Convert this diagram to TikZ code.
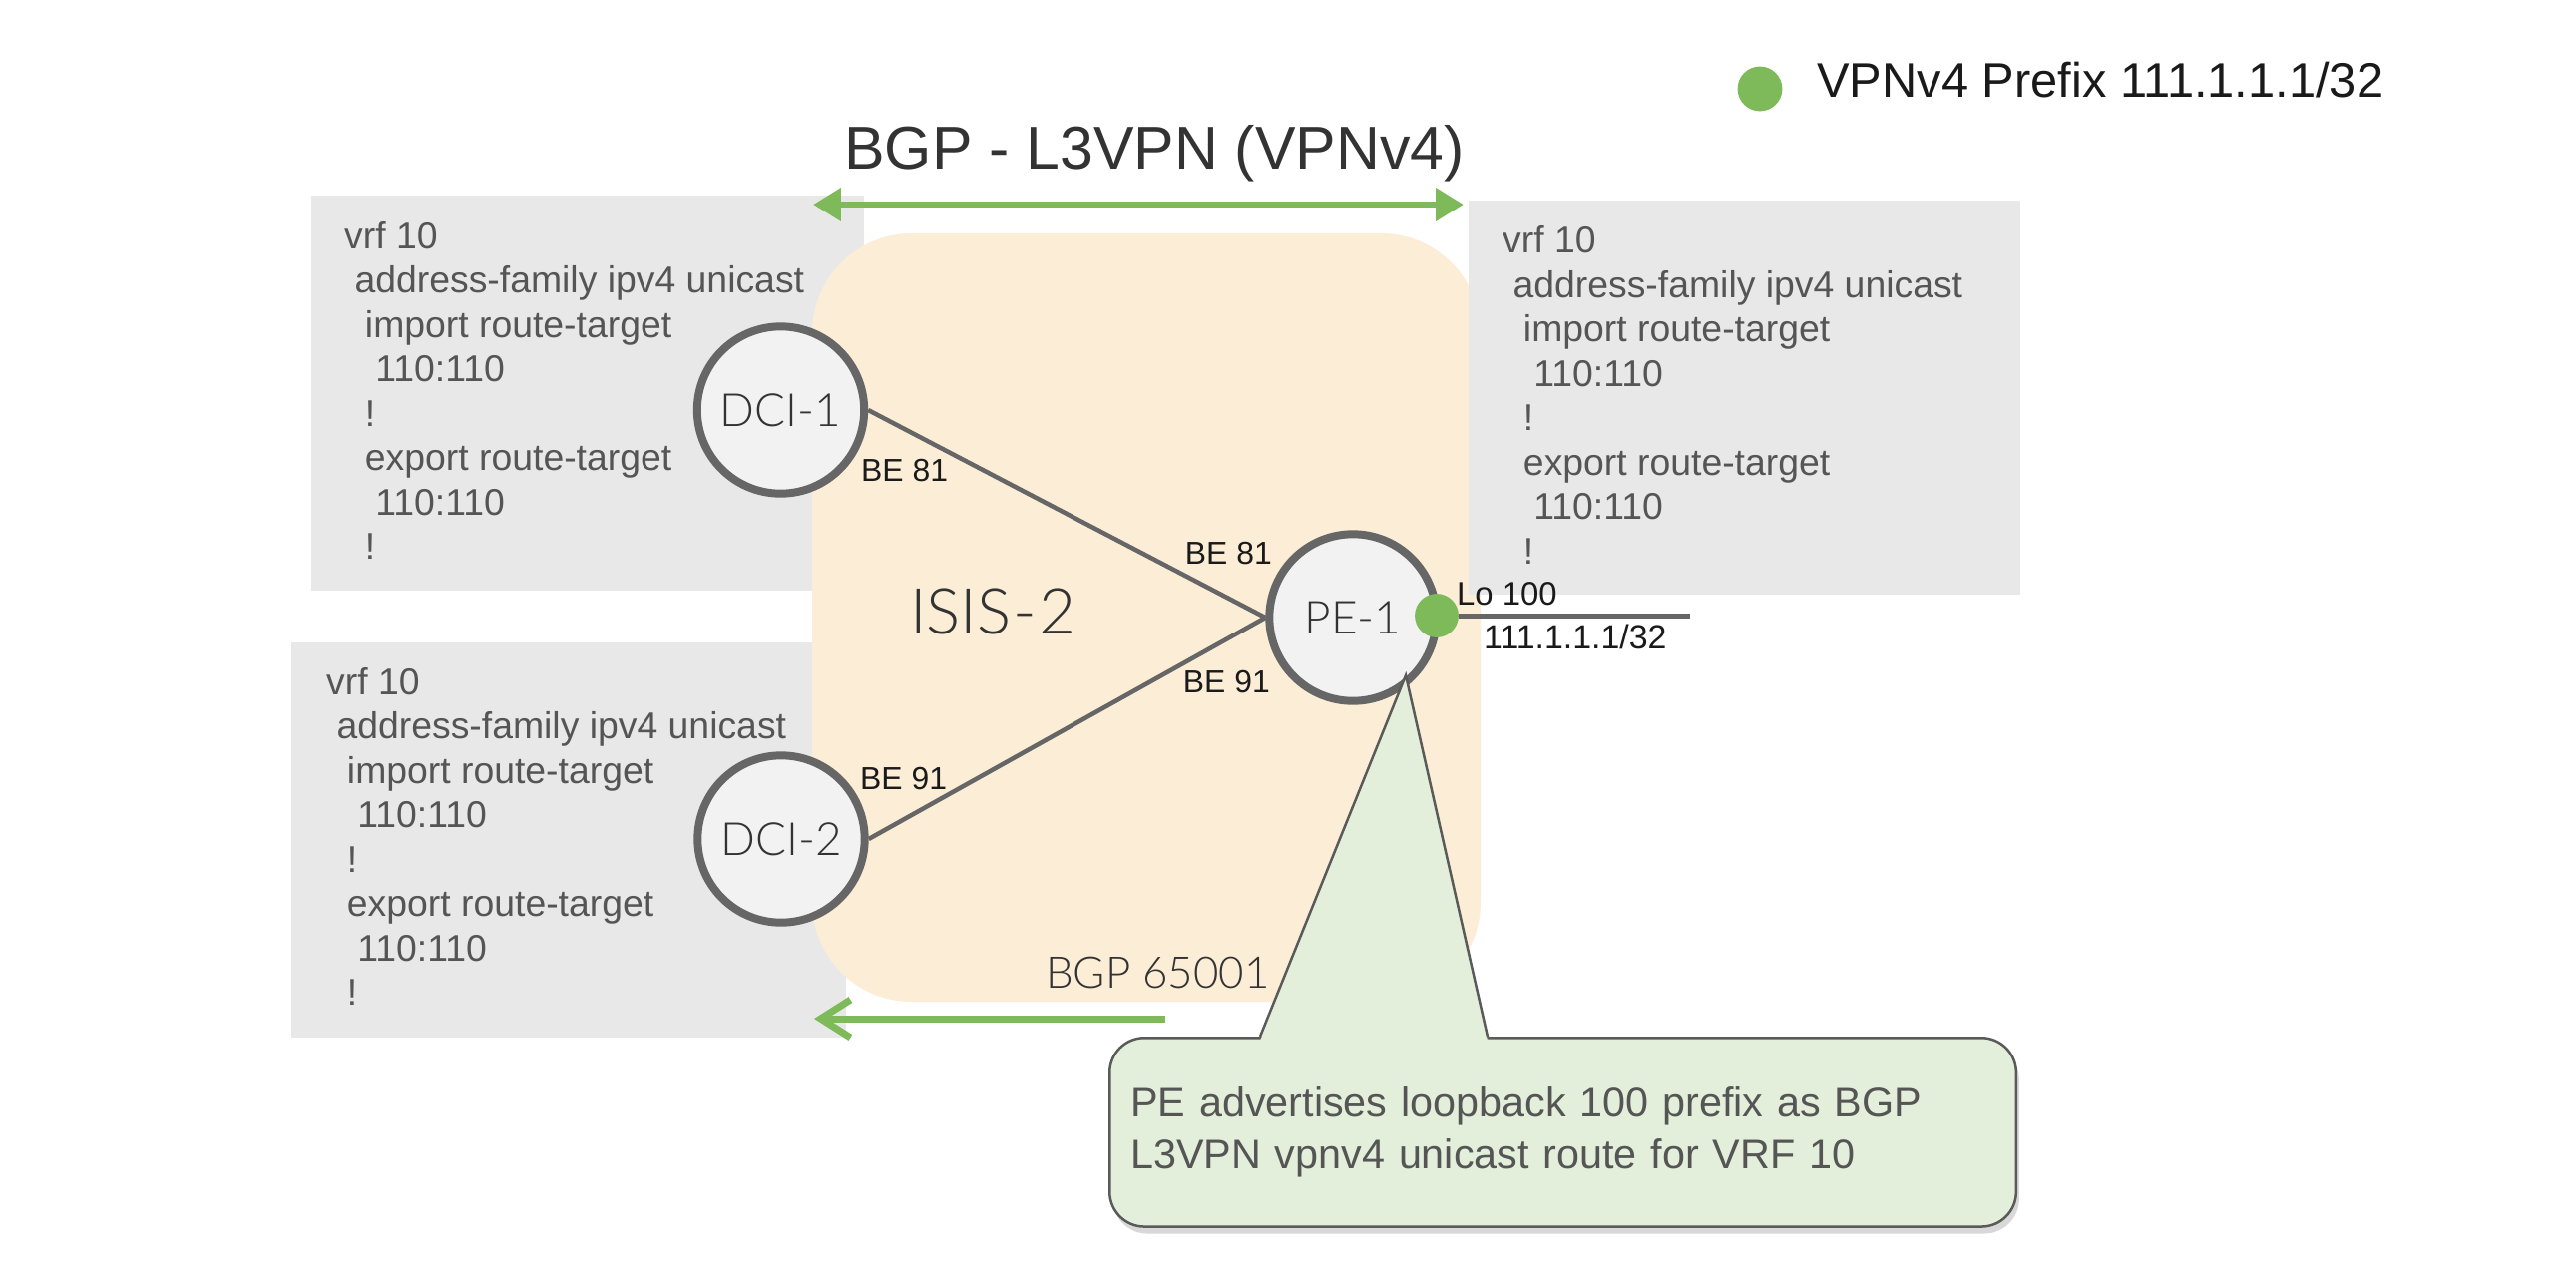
\documentclass[tikz,border=0pt]{standalone}
\usepackage{fontspec}
\setmainfont{Liberation Sans}
\newfontfamily\thinfont{Lato Light}
\usetikzlibrary{arrows.meta,shadows}
\definecolor{boxgray}{HTML}{E8E8E8}
\definecolor{cfggray}{HTML}{555555}
\definecolor{isisfill}{HTML}{FBEDD6}
\definecolor{bgpgreen}{HTML}{7EBA59}
\definecolor{routerline}{HTML}{666666}
\definecolor{routerfill}{HTML}{F2F2F2}
\definecolor{darktext}{HTML}{333333}
\definecolor{labeltext}{HTML}{1A1A1A}
\definecolor{notefill}{HTML}{E3EFDA}
\definecolor{noteline}{HTML}{5A5A5A}
\newcommand\vrfcfg{\vtop{\hbox{vrf 10}\hbox{\ address-family ipv4 unicast}\hbox{\ \ import route-target}\hbox{\ \ \ 110:110}\hbox{\ \ !}\hbox{\ \ export route-target}\hbox{\ \ \ 110:110}\hbox{\ \ !}}}
\tikzset{
  cfgbox/.style={fill=boxgray, draw=none},
  cfgtext/.style={inner sep=0, anchor=base west, text=cfggray, font=\fontsize{37.5}{44.7}\selectfont},
  router/.style={circle, draw=routerline, line width=8pt, fill=routerfill, minimum size=168pt, inner sep=0, font=\thinfont\fontsize{46}{54}\selectfont, text=darktext},
  link/.style={draw=routerline, line width=4.5pt},
  ifl/.style={inner sep=0, font=\fontsize{32}{38}\selectfont, text=labeltext},
  bgparrow/.style={draw=bgpgreen, line width=7pt},
  greendot/.style={circle, fill=bgpgreen, inner sep=0},
  note/.style={rectangle, rounded corners=35pt, fill=notefill, draw=noteline, line width=2.5pt,
    drop shadow={shadow xshift=3pt, shadow yshift=-7pt, opacity=0.3},
    anchor=north west, text width=870pt, inner xsep=21pt, minimum height=190pt, align=left,
    text=cfggray, font=\fontsize{41.5}{52}\selectfont},
}
\begin{document}
\begin{tikzpicture}[x=1bp,y=-1bp]
\useasboundingbox (0,0) rectangle (2582,1268);
\fill[white] (0,0) rectangle (2582,1268);
% config boxes (left)
\fill[cfgbox] (312,196) rectangle (866,592);
\fill[cfgbox] (292,644) rectangle (848,1040);
% ISIS domain
\fill[isisfill, rounded corners=100pt] (814,234) rectangle (1484,1004);
% config box (right)
\fill[cfgbox] (1472,201) rectangle (2025,596);
\node[cfgtext] (cfg1) at (345,249) {\vrfcfg};
\node[cfgtext] (cfg2) at (327,696) {\vrfcfg};
\node[cfgtext] (cfg3) at (1506,253.5) {\vrfcfg};
% titles
\node[inner sep=0, anchor=base west, text=darktext, font=\fontsize{61}{71}\selectfont] (l3vpn) at (846,169) {BGP - L3VPN (VPNv4)};
\node[inner sep=0, anchor=base west, text=darktext, font=\thinfont\fontsize{64}{74}\selectfont] (isis) at (912,635) {ISIS\kern2pt-\kern2pt2};
\node[inner sep=0, anchor=base west, text=darktext, font=\thinfont\fontsize{44}{52}\selectfont] (as) at (1048,990) {BGP 65001};
% legend
\node[greendot, minimum size=45pt] (legdot) at (1764,89) {};
\node[inner sep=0, anchor=base west, text=labeltext, font=\fontsize{49}{57}\selectfont] (legtext) at (1821,97) {VPNv4 Prefix 111.1.1.1/32};
% BGP arrows
\coordinate (bgpL) at (815,205);
\coordinate (bgpR) at (1467,205);
\draw[bgparrow, {Triangle[length=28pt,width=32pt]}-{Triangle[length=28pt,width=32pt]}] (bgpL) -- (bgpR);
\coordinate (asR) at (1168,1021);
\coordinate (asL) at (816,1021);
\draw[bgparrow, -{Straight Barb[length=30pt,width=38pt]}] (asR) -- (asL);
% routers
\node[router] (dci1) at (782.5,411) {DCI-1};
\node[router] (dci2) at (783,841) {DCI-2};
\node[router] (pe1) at (1356,619) {PE-1};
\draw[link] (dci1.east) -- (pe1.west);
\draw[link] (dci2.east) -- (pe1.west);
% interface labels
\node[ifl, anchor=base west] (be81a) at (863,482) {BE 81};
\node[ifl, anchor=base east] (be81b) at (1275,565) {BE 81};
\node[ifl, anchor=base east] (be91b) at (1273,694) {BE 91};
\node[ifl, anchor=base west] (be91a) at (862,791) {BE 91};
% loopback
\node[greendot, minimum size=44pt] (lo) at (1440,617) {};
\coordinate (loend) at (1694,617);
\draw[draw=routerline, line width=5pt] (lo) -- (loend);
\node[inner sep=0, anchor=base west, text=labeltext, font=\fontsize{33}{40}\selectfont] (lolabel) at (1460,606) {Lo 100};
\node[inner sep=0, anchor=base west, text=labeltext, font=\fontsize{34}{40}\selectfont] (loaddr) at (1487,650) {111.1.1.1/32};
% callout
\node[note] (callout) at (1111,1039) {PE advertises loopback 100 prefix as BGP\\L3VPN vpnv4 unicast route for VRF 10};
\coordinate (tipL) at (1263,1039);
\coordinate (tip) at (1409,677);
\coordinate (tipR) at (1491,1039);
\fill[notefill] ([yshift=-4pt]tipL) -- (tip) -- ([yshift=-4pt]tipR) -- cycle;
\draw[noteline, line width=2.5pt] (tipL) -- (tip) -- (tipR);
\end{tikzpicture}
\end{document}
